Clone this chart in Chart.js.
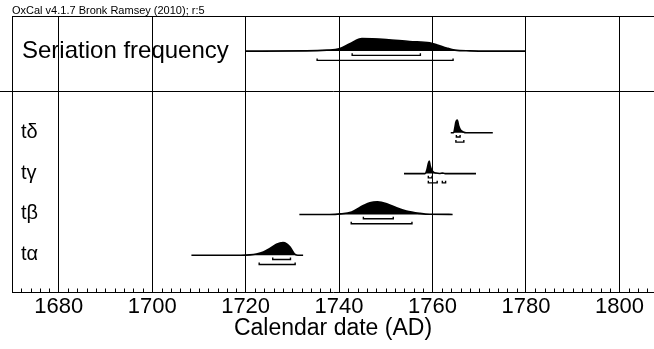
<!DOCTYPE html>
<html>
<head>
<meta charset="utf-8">
<script src="https://cdn.jsdelivr.net/npm/chart.js@4.4.1/dist/chart.umd.min.js"></script>
<style>
  html, body { margin: 0; padding: 0; background: #fff; }
  #wrap { width: 654px; height: 349px; position: relative; }
</style>
</head>
<body>
<div id="wrap"><canvas id="plot"></canvas></div>
<script>
const FONT = '"Liberation Sans", Arial, sans-serif';

const header = "OxCal v4.1.7 Bronk Ramsey (2010); r:5";
const rowLabels = ["Seriation frequency", "tδ", "tγ", "tβ", "tα"];
const rowIndex = [6, 4, 3, 2, 1];

// probability distributions (calendar year, relative density)
const serYears = [1720, 1733, 1737.4, 1740, 1742.3, 1744.9, 1750.1, 1755.1, 1759.4, 1761.2, 1763, 1764.8, 1768, 1772, 1780];
const serDens  = [0, 0.02, 0.08, 0.18, 0.58, 1.0, 0.92, 0.76, 0.66, 0.47, 0.25, 0.08, 0.02, 0, 0];

const deltaYears = [1763.9, 1764.5, 1764.8, 1765.0, 1765.3, 1765.6, 1766.0, 1766.6, 1767.2, 1772.9];
const deltaDens  = [0, 0, 0.45, 0.85, 1.0, 0.55, 0.22, 0.06, 0, 0];

const gammaYears = [1753.9, 1758.4, 1758.8, 1759.1, 1759.3, 1759.5, 1759.8, 1760.2, 1760.8, 1761.5, 1762.1, 1762.7, 1769.3];
const gammaDens  = [0, 0, 0.3, 0.8, 1.0, 0.6, 0.3, 0.12, 0.04, 0.01, 0.04, 0, 0];

const betaYears = [1731.5, 1738, 1740.2, 1742.7, 1745.2, 1746.6, 1748.2, 1750.2, 1752.3, 1754.4, 1757.3, 1759.4, 1764.3];
const betaDens  = [0, 0, 0.04, 0.2, 0.7, 0.93, 1.0, 0.85, 0.52, 0.26, 0.08, 0.01, 0];

const alphaYears = [1708.4, 1719, 1720.9, 1722.3, 1723.8, 1725.2, 1726.6, 1728.0, 1728.8, 1729.5, 1730.1, 1730.6, 1731.2, 1732.3];
const alphaDens  = [0, 0, 0.03, 0.1, 0.26, 0.53, 0.87, 1.0, 0.9, 0.66, 0.3, 0.06, 0, 0];

// highest posterior density ranges, 68.2% and 95.4%
const ser68 = [[1742.8, 1757.4]];
const ser95 = [[1735.3, 1764.4]];
const delta68 = [[1765.1, 1765.9]];
const delta95 = [[1765.0, 1766.7]];
const gamma68 = [[1759.1, 1759.9]];
const gamma95 = [[1759.1, 1761.0], [1762.1, 1762.8]];
const beta68 = [[1745.2, 1751.6]];
const beta95 = [[1742.6, 1755.6]];
const alpha68 = [[1725.8, 1729.6]];
const alpha95 = [[1722.9, 1730.6]];

const dists = [
  [serYears, serDens, ser68, ser95],
  [deltaYears, deltaDens, delta68, delta95],
  [gammaYears, gammaDens, gamma68, gamma95],
  [betaYears, betaDens, beta68, beta95],
  [alphaYears, alphaDens, alpha68, alpha95]
];

const PEAK = 0.31;     // peak height in row units
const OFF68 = 0.105, OFF95 = 0.228, TICK = 0.05;

function bracketPoints(ranges, y) {
  const pts = [];
  ranges.forEach((r, i) => {
    if (i > 0) pts.push({ x: (ranges[i - 1][1] + r[0]) / 2, y: null });
    pts.push({ x: r[0], y: y + TICK }, { x: r[0], y: y }, { x: r[1], y: y }, { x: r[1], y: y + TICK });
  });
  return pts;
}

const datasets = [];
dists.forEach((d, i) => {
  const row = rowIndex[i];
  datasets.push({
    data: d[0].map((yr, k) => ({ x: yr, y: row + d[1][k] * PEAK })),
    borderColor: "#000",
    backgroundColor: "#000",
    borderWidth: 1.6,
    fill: { value: row },
    cubicInterpolationMode: "monotone",
    pointRadius: 0
  });
  [[d[2], OFF68], [d[3], OFF95]].forEach(b => {
    datasets.push({
      data: bracketPoints(b[0], row - b[1]),
      borderColor: "#000",
      borderWidth: 1.4,
      fill: false,
      spanGaps: false,
      tension: 0,
      pointRadius: 0
    });
  });
});

const frame = {
  id: "frame",
  afterDatasetsDraw(chart) {
    const { ctx, chartArea: a, scales } = chart;
    ctx.save();
    ctx.strokeStyle = "#000";
    ctx.lineWidth = 1;
    ctx.beginPath();
    ctx.moveTo(a.left, Math.round(a.top) + 0.5);
    ctx.lineTo(a.right, Math.round(a.top) + 0.5);
    // minor ticks on the date axis
    scales.x.ticks.forEach(t => {
      if (t.value % 20 === 0) return;
      const px = Math.round(scales.x.getPixelForValue(t.value)) + 0.5;
      ctx.moveTo(px, a.bottom);
      ctx.lineTo(px, a.bottom - 3.5);
    });
    ctx.stroke();

    ctx.fillStyle = "#000";
    ctx.textBaseline = "alphabetic";
    ctx.font = "11px " + FONT;
    ctx.fillText(header, 12, 13.5);

    rowLabels.forEach((lab, i) => {
      const py = scales.y.getPixelForValue(rowIndex[i]);
      if (i === 0) {
        ctx.font = "24px " + FONT;
        ctx.fillText(lab, 22, py + 7);
      } else {
        ctx.font = "20px " + FONT;
        ctx.fillText(lab, 21, py + 5);
      }
    });
    ctx.restore();
  }
};

new Chart(document.getElementById("plot"), {
  type: "line",
  data: { datasets: datasets },
  options: {
    responsive: true,
    maintainAspectRatio: false,
    animation: false,
    layout: { padding: { top: 16, left: 0, right: 0, bottom: 0 } },
    plugins: { legend: { display: false }, tooltip: { enabled: false } },
    scales: {
      x: {
        type: "linear",
        min: 1670,
        max: 1807.4,
        border: { display: true, color: "#000", width: 1 },
        grid: {
          drawTicks: false,
          lineWidth: 1,
          color: c => (c.tick && c.tick.value % 20 === 0) ? "#000" : "rgba(0,0,0,0)"
        },
        ticks: {
          stepSize: 2,
          autoSkip: false,
          maxRotation: 0,
          includeBounds: false,
          padding: 2,
          color: "#000",
          font: { family: FONT, size: 22, lineHeight: 1.2 },
          callback: v => (v % 20 === 0 ? String(v) : "")
        },
        title: {
          display: true,
          text: "Calendar date (AD)",
          color: "#000",
          font: { family: FONT, size: 23, lineHeight: 1 },
          padding: { top: 0, bottom: 9 }
        },
        afterFit: s => { s.height = 57; }
      },
      y: {
        type: "linear",
        min: 0.1,
        max: 6.86,
        afterBuildTicks: s => { s.ticks = [{ value: 5 }]; },
        border: { display: true, color: "#000", width: 1 },
        grid: { color: "#000", lineWidth: 1, drawTicks: true, tickLength: 12 },
        ticks: { display: false }
      }
    }
  },
  plugins: [frame]
});
</script>
</body>
</html>
